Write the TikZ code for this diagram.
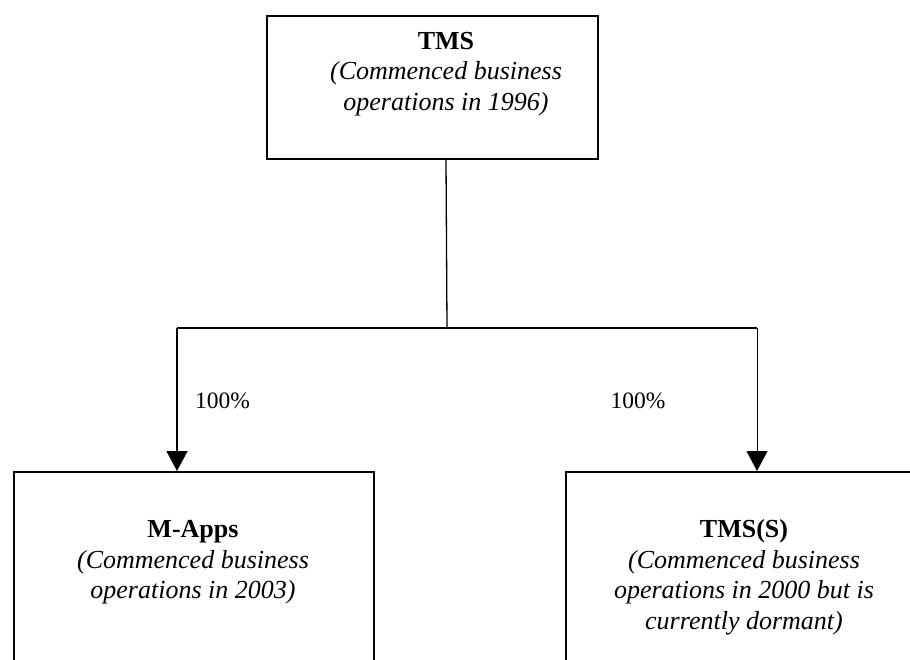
\documentclass[tikz,border=0pt]{standalone}
\usepackage{fontspec}
\setmainfont{Liberation Serif}
\usetikzlibrary{arrows.meta}
\begin{document}
\begin{tikzpicture}[x=1pt,y=-1pt,
  box/.style={draw,line width=1.8pt,inner sep=0pt,anchor=north west},
  boxtext/.style={align=center,inner sep=0pt,font=\fontsize{26}{30.5}\selectfont},
  pct/.style={inner sep=0pt,font=\fontsize{23.5}{25}\selectfont},
  conn/.style={line width=1.3pt},
  arr/.style={line width=1.5pt,-{Triangle[length=20pt,width=21pt]}}]
\useasboundingbox (0,0) rectangle (910,660);
\clip (0,0) rectangle (910,660);
% boxes
\node[box,minimum width=331pt,minimum height=143pt] (tms) at (266,15) {};
\node[box,minimum width=360pt,minimum height=220pt] (mapps) at (13,471) {};
\node[box,minimum width=360pt,minimum height=220pt] (tmss) at (565,471) {};
% texts
\node[boxtext] (tmst) at (446,74) {\textbf{TMS}\\\textit{(Commenced business}\\\textit{operations in 1996)}};
\node[boxtext] (mappst) at (193,562.5) {\textbf{M-Apps}\\\textit{(Commenced business}\\\textit{operations in 2003)}};
\node[boxtext] (tmsst) at (744,577.5) {\textbf{TMS(S)}\\\textit{(Commenced business}\\\textit{operations in 2000 but is}\\\textit{currently dormant)}};
% junction points
\coordinate (top) at (tms.south -| tmst);
\coordinate (mid) at (447,328);
\coordinate (lft) at (177,328);
\coordinate (rgt) at (757,328);
\draw[conn] (top) -- (mid);
\draw[conn] (lft) -- (rgt);
\draw[arr] (lft) -- (lft |- mapps.north);
\draw[arr,line width=1pt] (rgt) -- (rgt |- tmss.north);
% labels
\node[pct] (p1) at (222.5,401) {100\%};
\node[pct] (p2) at (638,401) {100\%};
\end{tikzpicture}
\end{document}
